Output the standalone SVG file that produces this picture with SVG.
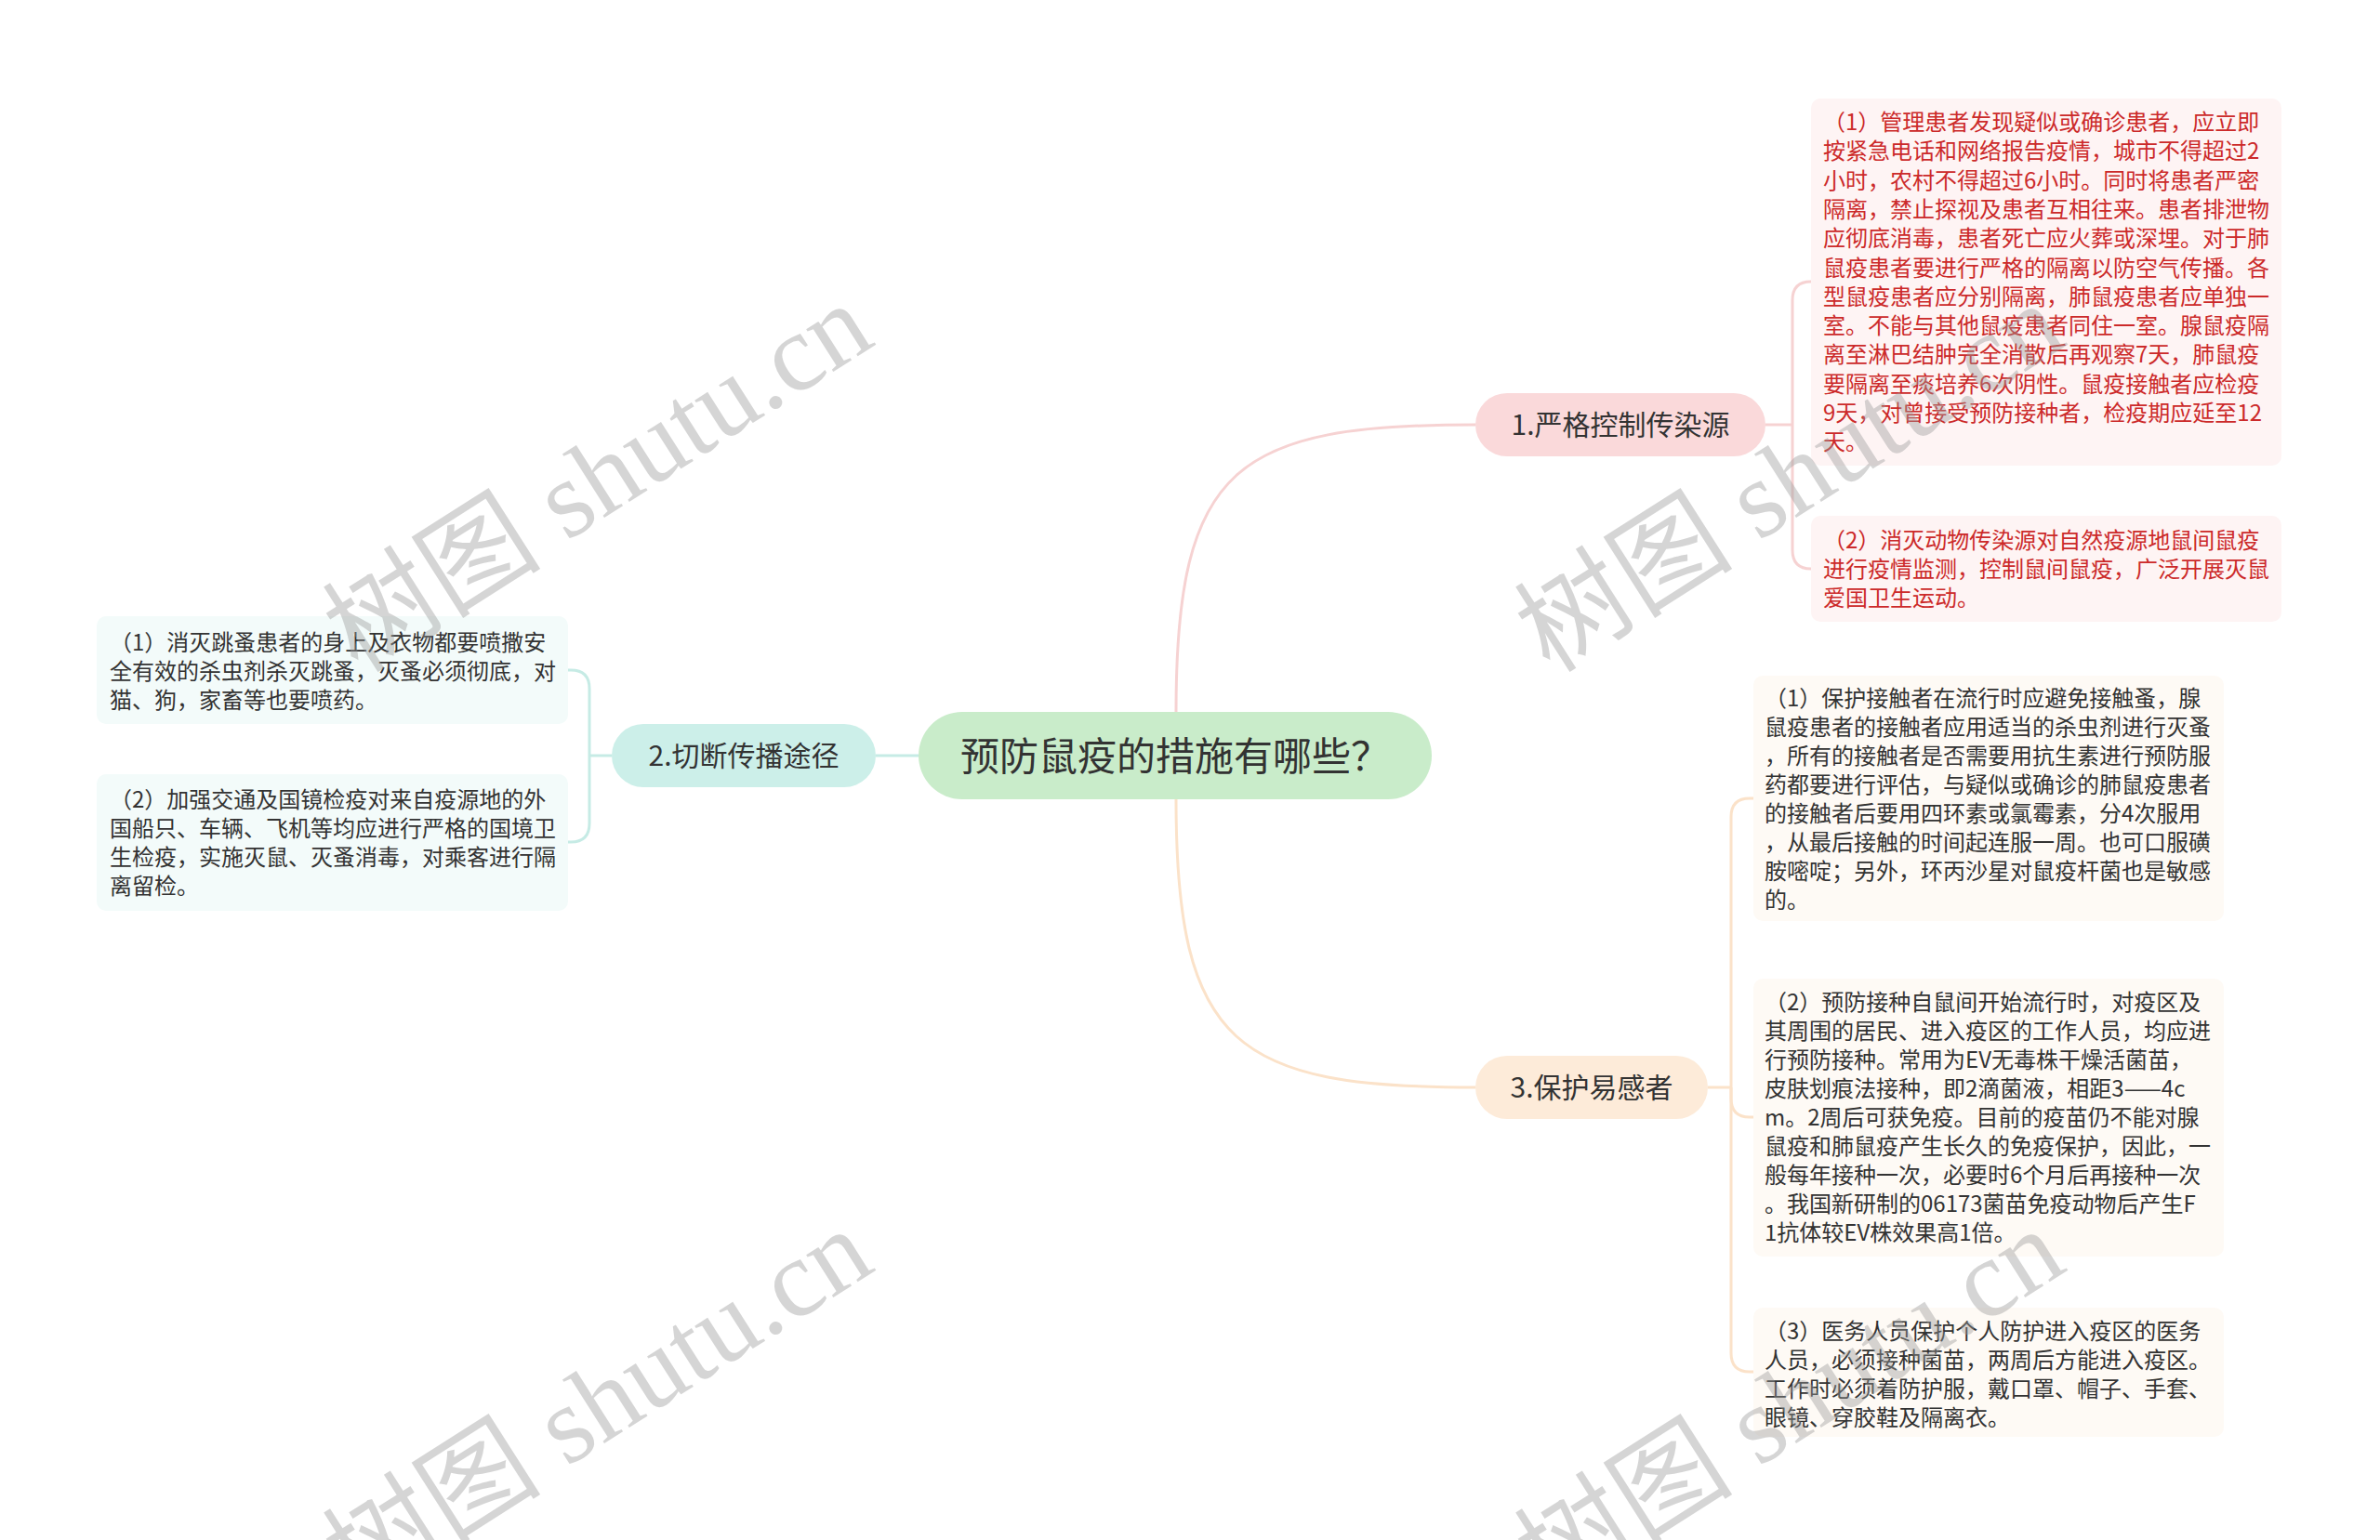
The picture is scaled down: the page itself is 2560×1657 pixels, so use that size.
<svg xmlns="http://www.w3.org/2000/svg" width="2560" height="1657" viewBox="0 0 2560 1657">
<style>
  text { font-family: "Noto Sans CJK SC", "Noto Sans", sans-serif; }
  .root-box { fill: #c9ecca; }
  .root-t { font-size: 42px; fill: #333333; text-anchor: middle; }
  .l1-t { font-size: 30px; fill: #333333; text-anchor: middle; }
  .leaf-t { font-size: 24px; fill: #333333; }
  .leaf-r { font-size: 24px; fill: #cc2a2a; }
  .c-pink { fill: none; stroke: #f6d2d2; stroke-width: 3; }
  .c-teal { fill: none; stroke: #c6ebe5; stroke-width: 3; }
  .c-peach { fill: none; stroke: #fbe2c9; stroke-width: 3; }
  .wm { font-family: "Liberation Serif", "Noto Sans CJK SC", serif; font-size: 118px; fill: #999999; opacity: 0.4; text-anchor: middle; }
</style>
<rect x="0" y="0" width="2560" height="1657" fill="#ffffff"/>
<g id="connectors">
  <path class="c-pink" d="M1265,813 L1265,766 C1265,500 1330,457 1587,457"/>
  <path class="c-peach" d="M1265,813 L1265,860 C1265,1126 1330,1170 1587,1170"/>
  <path class="c-teal" d="M942,813 L988,813"/>
  <path class="c-pink" d="M1899,457 H1928"/>
  <path class="c-pink" d="M1928,457 V323 Q1928,303 1948,303"/>
  <path class="c-pink" d="M1928,457 V592 Q1928,612 1948,612"/>
  <path class="c-teal" d="M658,813 H634"/>
  <path class="c-teal" d="M634,813 V741 Q634,721 614,721 H611"/>
  <path class="c-teal" d="M634,813 V886 Q634,906 614,906 H611"/>
  <path class="c-peach" d="M1837,1170 H1862"/>
  <path class="c-peach" d="M1862,1170 V879 Q1862,859 1882,859 H1886"/>
  <path class="c-peach" d="M1862,1170 V1182 Q1862,1202 1882,1202 H1886"/>
  <path class="c-peach" d="M1862,1170 V1456 Q1862,1476 1882,1476 H1886"/>
</g>
<g id="root">
  <rect class="root-box" x="988" y="766" width="552" height="94" rx="47"/>
  <text class="root-t" x="1264" y="829">预防鼠疫的措施有哪些？</text>
</g>
<g id="n1">
  <rect x="1587" y="423" width="312" height="68" rx="34" fill="#fad9da"/>
  <text class="l1-t" x="1743" y="468">1.严格控制传染源</text>
</g>
<g id="n2">
  <rect x="658" y="779" width="284" height="68" rx="34" fill="#ccefe9"/>
  <text class="l1-t" x="800" y="824">2.切断传播途径</text>
</g>
<g id="n3">
  <rect x="1587" y="1136" width="250" height="68" rx="34" fill="#fdebd9"/>
  <text class="l1-t" x="1712" y="1181">3.保护易感者</text>
</g>
<g id="n1a">
  <rect x="1948" y="106" width="506" height="395" rx="10" fill="#fef4f4"/>
  <text class="leaf-r" x="1961" y="140">
    <tspan x="1961" y="140">（1）管理患者发现疑似或确诊患者，应立即</tspan>
    <tspan x="1961" y="171.3">按紧急电话和网络报告疫情，城市不得超过2</tspan>
    <tspan x="1961" y="202.6">小时，农村不得超过6小时。同时将患者严密</tspan>
    <tspan x="1961" y="233.9">隔离，禁止探视及患者互相往来。患者排泄物</tspan>
    <tspan x="1961" y="265.2">应彻底消毒，患者死亡应火葬或深埋。对于肺</tspan>
    <tspan x="1961" y="296.5">鼠疫患者要进行严格的隔离以防空气传播。各</tspan>
    <tspan x="1961" y="327.8">型鼠疫患者应分别隔离，肺鼠疫患者应单独一</tspan>
    <tspan x="1961" y="359.1">室。不能与其他鼠疫患者同住一室。腺鼠疫隔</tspan>
    <tspan x="1961" y="390.4">离至淋巴结肿完全消散后再观察7天，肺鼠疫</tspan>
    <tspan x="1961" y="421.7">要隔离至痰培养6次阴性。鼠疫接触者应检疫</tspan>
    <tspan x="1961" y="453">9天，对曾接受预防接种者，检疫期应延至12</tspan>
    <tspan x="1961" y="484.3">天。</tspan>
  </text>
</g>
<g id="n1b">
  <rect x="1948" y="555" width="506" height="114" rx="10" fill="#fef4f4"/>
  <text class="leaf-r" x="1961" y="590">
    <tspan x="1961" y="590">（2）消灭动物传染源对自然疫源地鼠间鼠疫</tspan>
    <tspan x="1961" y="621">进行疫情监测，控制鼠间鼠疫，广泛开展灭鼠</tspan>
    <tspan x="1961" y="652">爱国卫生运动。</tspan>
  </text>
</g>
<g id="n2a">
  <rect x="104" y="663" width="507" height="116" rx="10" fill="#f3fbfa"/>
  <text class="leaf-t" x="118" y="700">
    <tspan x="118" y="700">（1）消灭跳蚤患者的身上及衣物都要喷撒安</tspan>
    <tspan x="118" y="731">全有效的杀虫剂杀灭跳蚤，灭蚤必须彻底，对</tspan>
    <tspan x="118" y="762">猫、狗，家畜等也要喷药。</tspan>
  </text>
</g>
<g id="n2b">
  <rect x="104" y="833" width="507" height="147" rx="10" fill="#f3fbfa"/>
  <text class="leaf-t" x="118" y="869">
    <tspan x="118" y="869">（2）加强交通及国镜检疫对来自疫源地的外</tspan>
    <tspan x="118" y="900">国船只、车辆、飞机等均应进行严格的国境卫</tspan>
    <tspan x="118" y="931">生检疫，实施灭鼠、灭蚤消毒，对乘客进行隔</tspan>
    <tspan x="118" y="962">离留检。</tspan>
  </text>
</g>
<g id="n3a">
  <rect x="1886" y="727" width="506" height="264" rx="10" fill="#fefaf5"/>
  <text class="leaf-t" x="1898" y="760">
    <tspan x="1898" y="760">（1）保护接触者在流行时应避免接触蚤，腺</tspan>
    <tspan x="1898" y="791">鼠疫患者的接触者应用适当的杀虫剂进行灭蚤</tspan>
    <tspan x="1898" y="822">，所有的接触者是否需要用抗生素进行预防服</tspan>
    <tspan x="1898" y="853">药都要进行评估，与疑似或确诊的肺鼠疫患者</tspan>
    <tspan x="1898" y="884">的接触者后要用四环素或氯霉素，分4次服用</tspan>
    <tspan x="1898" y="915">，从最后接触的时间起连服一周。也可口服磺</tspan>
    <tspan x="1898" y="946">胺嘧啶；另外，环丙沙星对鼠疫杆菌也是敏感</tspan>
    <tspan x="1898" y="977">的。</tspan>
  </text>
</g>
<g id="n3b">
  <rect x="1886" y="1053" width="506" height="299" rx="10" fill="#fefaf5"/>
  <text class="leaf-t" x="1898" y="1087">
    <tspan x="1898" y="1087">（2）预防接种自鼠间开始流行时，对疫区及</tspan>
    <tspan x="1898" y="1118">其周围的居民、进入疫区的工作人员，均应进</tspan>
    <tspan x="1898" y="1149">行预防接种。常用为EV无毒株干燥活菌苗，</tspan>
    <tspan x="1898" y="1180">皮肤划痕法接种，即2滴菌液，相距3——4c</tspan>
    <tspan x="1898" y="1211">m。2周后可获免疫。目前的疫苗仍不能对腺</tspan>
    <tspan x="1898" y="1242">鼠疫和肺鼠疫产生长久的免疫保护，因此，一</tspan>
    <tspan x="1898" y="1273">般每年接种一次，必要时6个月后再接种一次</tspan>
    <tspan x="1898" y="1304">。我国新研制的06173菌苗免疫动物后产生F</tspan>
    <tspan x="1898" y="1335">1抗体较EV株效果高1倍。</tspan>
  </text>
</g>
<g id="n3c">
  <rect x="1886" y="1407" width="506" height="139" rx="10" fill="#fefaf5"/>
  <text class="leaf-t" x="1898" y="1441">
    <tspan x="1898" y="1441">（3）医务人员保护个人防护进入疫区的医务</tspan>
    <tspan x="1898" y="1472">人员，必须接种菌苗，两周后方能进入疫区。</tspan>
    <tspan x="1898" y="1503">工作时必须着防护服，戴口罩、帽子、手套、</tspan>
    <tspan x="1898" y="1534">眼镜、穿胶鞋及隔离衣。</tspan>
  </text>
</g>
<g id="watermarks">
  <text class="wm" transform="translate(643,514) rotate(-32.5)" x="0" y="40">树图 shutu.cn</text>
  <text class="wm" transform="translate(1925,514) rotate(-32.5)" x="0" y="40">树图 shutu.cn</text>
  <text class="wm" transform="translate(643,1510) rotate(-32.5)" x="0" y="40">树图 shutu.cn</text>
  <text class="wm" transform="translate(1925,1510) rotate(-32.5)" x="0" y="40">树图 shutu.cn</text>
</g>
</svg>
